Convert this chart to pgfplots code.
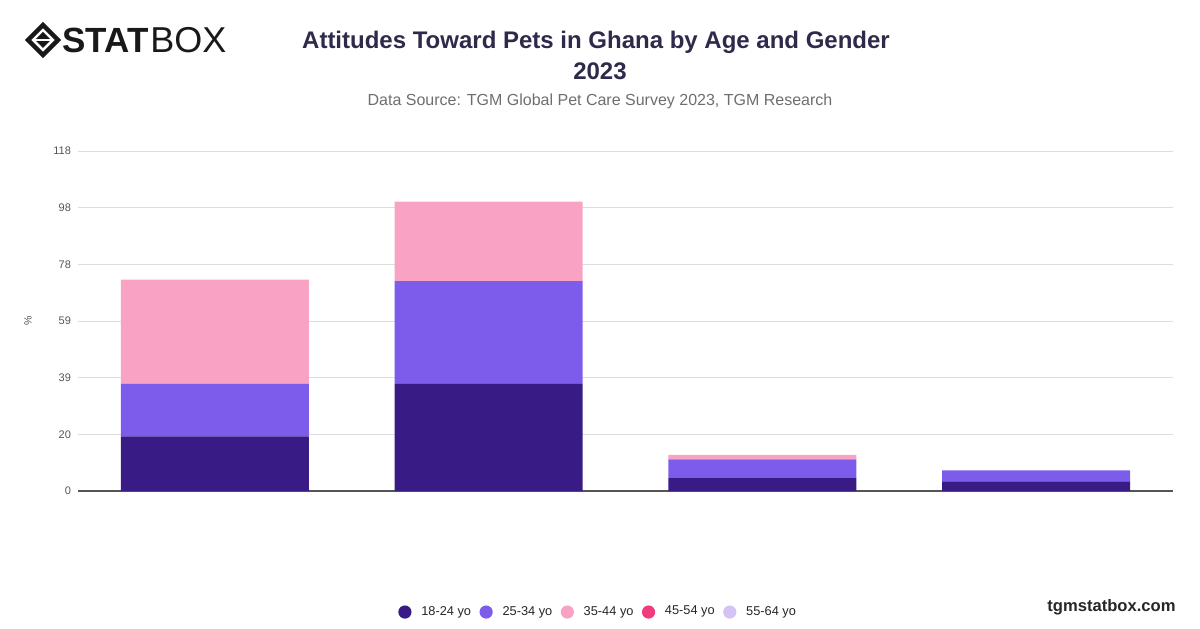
\documentclass[border=0pt]{standalone}
\usepackage{pgfplots}
\pgfplotsset{compat=1.18}
\usepackage{fontspec}
\setmainfont{Liberation Sans}
\definecolor{cA}{HTML}{391B85}
\definecolor{cB}{HTML}{7C5DEB}
\definecolor{cC}{HTML}{F9A3C4}
\definecolor{cD}{HTML}{F03C7C}
\definecolor{cE}{HTML}{D6C3F5}
\definecolor{titlecol}{HTML}{2D2A4A}
\definecolor{subcol}{HTML}{6E6E6E}
\definecolor{tickcol}{HTML}{555555}
\definecolor{gridcol}{HTML}{DDDDDD}
\begin{document}
\begin{tikzpicture}[x=0.5pt,y=0.5pt]
\path[use as bounding box] (0,0) rectangle (1200,628);
% logo
\begin{scope}[shift={(43,588)}]
\draw[line width=2.2pt, color=black!90, line join=miter] (0,15) -- (15,0) -- (0,-15) -- (-15,0) -- cycle;
\fill[black!90] (0,8) -- (8,0) -- (0,-8) -- (-8,0) -- cycle;
\draw[white, line width=1.2pt] (-9,0) -- (9,0);
\end{scope}
\node[anchor=west, inner sep=0pt, font=\fontsize{17.5}{18}\selectfont\bfseries, text=black!90] at (62,588) {STAT};
\node[anchor=west, inner sep=0pt, font=\fontsize{18}{19}\selectfont, text=black!90] at (150,588) {BOX};
% titles
\node[font=\fontsize{12}{13}\selectfont\bfseries, text=titlecol] at (596,586) {Attitudes Toward Pets in Ghana by Age and Gender};
\node[font=\fontsize{12}{13}\selectfont\bfseries, text=titlecol] at (600,557) {2023};
\node[font=\fontsize{8}{9}\selectfont, text=subcol] at (600,527) {Data Source: TGM Global Pet Care Survey 2023, TGM Research};
\node[anchor=east, inner sep=0pt, font=\fontsize{8.3}{9}\selectfont\bfseries, text=black!85] at (1176,21) {tgmstatbox.com};
\begin{axis}[
  at={(39pt,68.5pt)}, anchor=south west,
  scale only axis, width=547.5pt, height=170pt,
  ybar stacked, bar width=0.687,
  xmin=-0.5, xmax=3.5, ymin=0, ymax=118,
  xtick=\empty,
  ytick={0,19.667,39.333,59,78.667,98.333,118},
  yticklabels={0,20,39,59,78,98,118},
  /pgf/number format/assume math mode=true,
  yticklabel style={font=\fontsize{5.5}{6}\selectfont, text=tickcol},
  major tick length=0pt,
  ymajorgrids, grid style={gridcol, line width=0.5pt},
  axis line style={draw=none},
  ylabel={\%},
  ylabel style={at={(axis description cs:-0.0457,0.5)}, anchor=center, font=\fontsize{5.3}{6}\selectfont, text=tickcol},
  legend columns=5,
  legend style={at={(0.4752,-0.356)}, anchor=center, draw=none, fill=none,
    font=\fontsize{6.4}{7}\selectfont, text=black!85,
    /tikz/every even column/.append style={column sep=3pt},
    nodes={inner sep=1.2pt, anchor=west}},
  legend image code/.code={\fill[#1] (0pt,0pt) circle (3.3pt); \path (7pt,0pt);},
]
\addplot[fill=cA, draw=none] coordinates {(0,19.0) (1,37.2) (2,4.5) (3,3.3)};
\addplot[fill=cB, draw=none] coordinates {(0,18.3) (1,35.6) (2,6.5) (3,3.9)};
\addplot[fill=cC, draw=none] coordinates {(0,36.1) (1,27.6) (2,1.5) (3,0)};
\addplot[fill=cD, draw=none] coordinates {(0,0) (1,0) (2,0) (3,0)};
\addplot[fill=cE, draw=none] coordinates {(0,0) (1,0) (2,0) (3,0)};
\legend{18-24 yo,25-34 yo,35-44 yo,45-54 yo,55-64 yo}
\draw[tickcol, line width=0.8pt] (axis cs:-0.5,0) -- (axis cs:3.5,0);
\end{axis}
\end{tikzpicture}
\end{document}
